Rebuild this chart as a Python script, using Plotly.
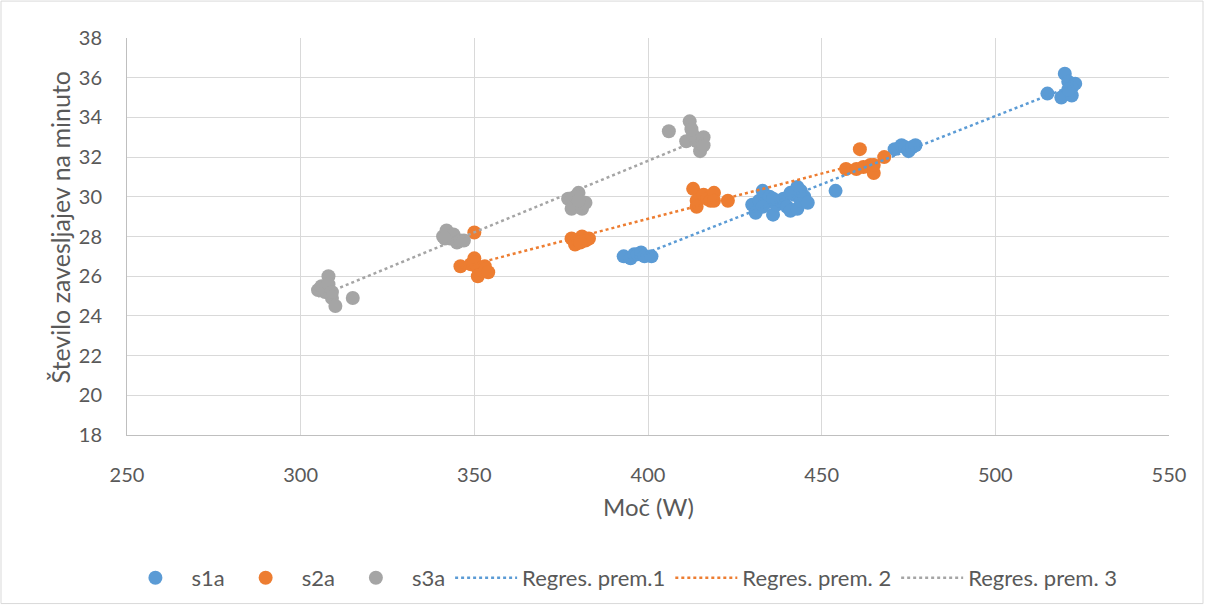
import numpy as np
import plotly.graph_objects as go

# ---- data ----
s1a_x = [393, 395, 396, 397, 398, 399, 401,
         430, 431, 432, 433, 434, 435, 436, 437, 438, 439, 440, 441, 442, 443, 443, 444, 445, 446, 433, 436, 441, 444,
         454,
         471, 473, 474, 475, 476, 477,
         515, 519, 520, 521, 522, 523, 522, 521]
s1a_y = [27.0, 26.9, 27.1, 27.1, 27.2, 27.0, 27.0,
         29.6, 29.2, 29.8, 30.3, 29.7, 30.0, 29.1, 29.6, 29.8, 29.9, 29.5, 29.3, 30.1, 30.5, 29.4, 29.8, 30.0, 29.7, 29.5, 29.9, 30.2, 30.3,
         30.3,
         32.4, 32.6, 32.5, 32.3, 32.5, 32.6,
         35.2, 35.0, 36.2, 35.8, 35.1, 35.7, 35.5, 35.4]

s2a_x = [350,
         346, 349, 350, 351, 351, 352, 353, 354, 350,
         378, 379, 380, 381, 382, 383, 380.5,
         413, 414, 414, 416, 417, 418, 419, 419, 423,
         457, 460, 461, 462, 464, 465, 465, 468]
s2a_y = [28.2,
         26.5, 26.6, 26.9, 26.4, 26.0, 26.3, 26.5, 26.2, 26.7,
         27.9, 27.6, 27.8, 28.0, 27.8, 27.9, 27.7,
         30.4, 29.8, 29.5, 30.1, 29.9, 29.8, 30.2, 29.8, 29.8,
         31.4, 31.4, 32.4, 31.5, 31.6, 31.2, 31.6, 32.0]

s3a_x = [308, 305, 306, 307, 309, 310, 308, 309, 315,
         341, 342, 343, 344, 345, 346, 347, 341.5,
         377, 378, 379, 380, 381, 382, 380,
         406, 412, 411, 413, 414, 415, 416, 416, 412.5]
s3a_y = [26.0, 25.3, 25.5, 25.2, 24.9, 24.5, 25.6, 25.2, 24.9,
         28.0, 28.3, 27.9, 28.1, 27.7, 27.8, 27.8, 27.9,
         29.9, 29.4, 30.0, 30.2, 29.4, 29.7, 29.8,
         33.3, 33.8, 32.8, 33.1, 32.8, 32.3, 33.0, 32.6, 33.4]

series_names = ["s1a", "s2a", "s3a"]
trend_names = ["Regres. prem.1", "Regres. prem. 2", "Regres. prem. 3"]
colors = ["#5B9BD5", "#ED7D31", "#A5A5A5"]

x_ticks = [250, 300, 350, 400, 450, 500, 550]
y_ticks = [18, 20, 22, 24, 26, 28, 30, 32, 34, 36, 38]

FONT = "Lato"
TXT = "#595959"

fig = go.Figure()
data = [(s1a_x, s1a_y), (s2a_x, s2a_y), (s3a_x, s3a_y)]
for (xs, ys), name, c in zip(data, series_names, colors):
    fig.add_trace(go.Scatter(x=xs, y=ys, mode="markers", name=name,
                             marker=dict(color=c, size=14, line=dict(width=0))))
for (xs, ys), name, c in zip(data, trend_names, colors):
    xs = np.array(xs, float); ys = np.array(ys, float)
    k, b = np.polyfit(xs, ys, 1)
    lx = np.array([xs.min(), xs.max()])
    fig.add_trace(go.Scatter(x=lx, y=k * lx + b, mode="lines", name=name,
                             line=dict(color=c, width=2.5, dash="dot")))

W, H = 1213, 609
L, R, T, B = 127, 44, 38, 173
pw, ph = W - L - R, H - T - B

def px2paper(px, py):
    return (px - L) / pw, (H - B - py) / ph

fig.update_layout(
    width=W, height=H,
    margin=dict(l=L, r=R, t=T, b=B),
    paper_bgcolor="white", plot_bgcolor="white",
    font=dict(family=FONT, color=TXT, size=20),
    showlegend=True,
    legend=dict(orientation="h", x=0.474, xanchor="center",
                y=px2paper(0, 578)[1], yanchor="middle",
                font=dict(size=22, color=TXT), itemwidth=62,
                tracegroupgap=0),
    xaxis=dict(range=[250, 550], tickvals=x_ticks, showgrid=True,
               gridcolor="#D9D9D9", gridwidth=1, zeroline=False,
               showline=True, linecolor="#BFBFBF", linewidth=1,
               ticks="outside", ticklen=22, tickcolor="rgba(0,0,0,0)",
               tickfont=dict(size=20, color=TXT)),
    yaxis=dict(range=[18, 38], tickvals=y_ticks, showgrid=True,
               gridcolor="#D9D9D9", gridwidth=1, zeroline=False,
               showline=True, linecolor="#BFBFBF", linewidth=1,
               ticks="outside", ticklen=20, tickcolor="rgba(0,0,0,0)",
               tickfont=dict(size=20, color=TXT)),
)

ax, ay = px2paper(648, 508)
fig.add_annotation(text="Moč (W)", x=ax, y=ay, xref="paper", yref="paper",
                   showarrow=False, font=dict(size=24, color=TXT),
                   xanchor="center", yanchor="middle")
bx, by = px2paper(60, 228)
fig.add_annotation(text="Število zavesljajev na minuto", x=bx, y=by,
                   xref="paper", yref="paper", textangle=-90,
                   showarrow=False, font=dict(size=25, color=TXT),
                   xanchor="center", yanchor="middle")

x0, y0 = px2paper(1, 605)
x1, y1 = px2paper(1203, 1)
fig.add_shape(type="rect", xref="paper", yref="paper", x0=x0, y0=y0, x1=x1, y1=y1,
              line=dict(color="#D9D9D9", width=1), fillcolor="rgba(0,0,0,0)", layer="below")

fig.write_html("out.html")
